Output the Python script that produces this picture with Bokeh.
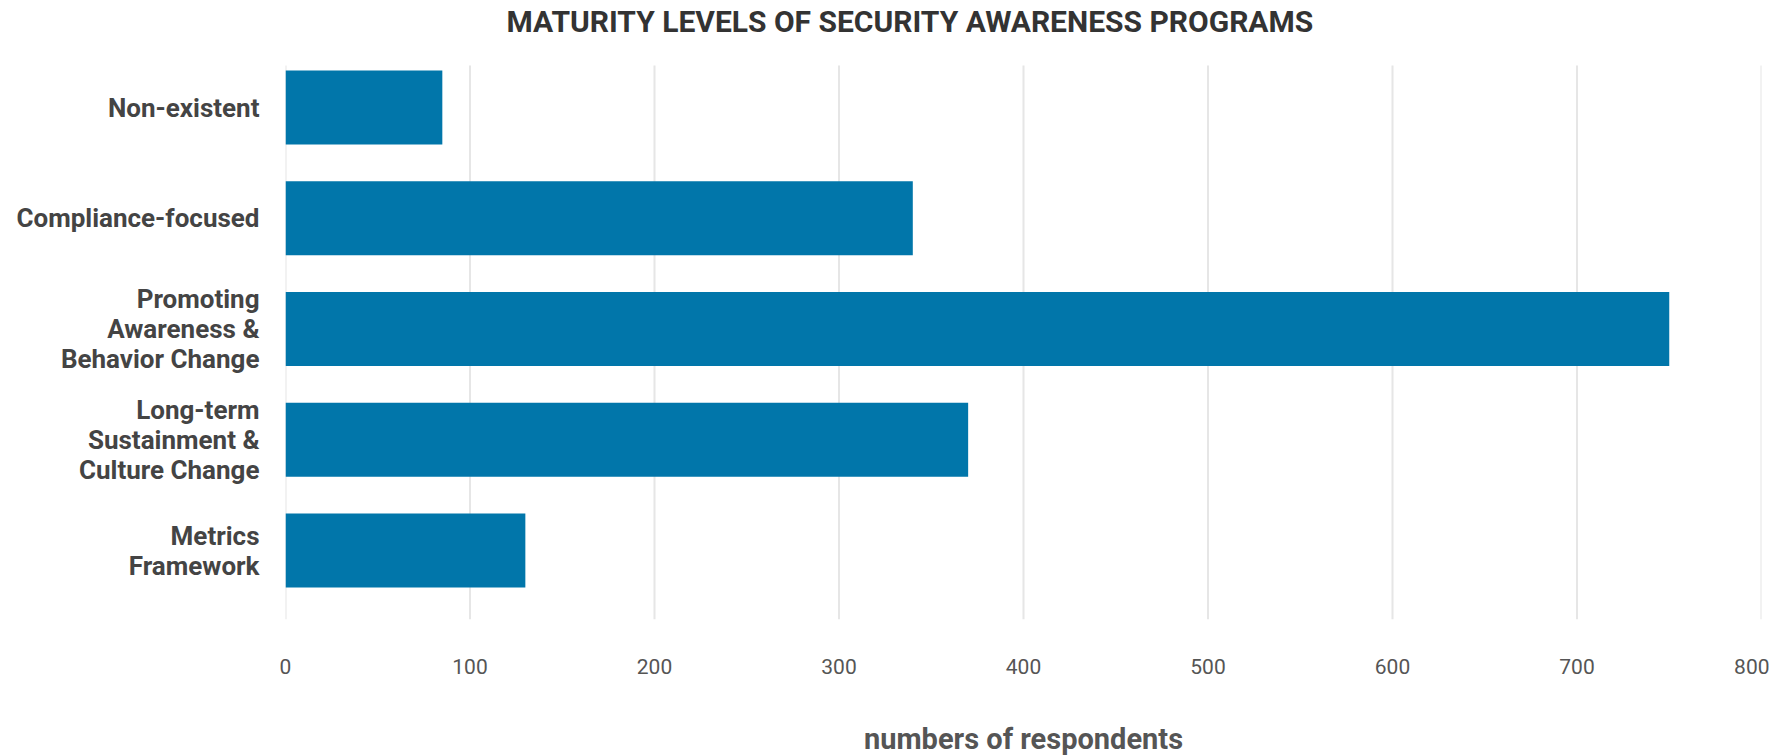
from bokeh.plotting import figure
from bokeh.models import Range1d, FixedTicker, Label
from bokeh.embed import file_html
from bokeh.resources import INLINE

title_text = "MATURITY LEVELS OF SECURITY AWARENESS PROGRAMS"
categories = [
    "Non-existent",
    "Compliance-focused",
    "Promoting\nAwareness &\nBehavior Change",
    "Long-term\nSustainment &\nCulture Change",
    "Metrics\nFramework",
]
values = [85, 340, 750, 370, 130]
x_ticks = [0, 100, 200, 300, 400, 500, 600, 700, 800]
x_label = "numbers of respondents"

FONT = "Roboto"
n = len(categories)
ypos = [n - 1 - i for i in range(n)]

# layout constants (pixels)
BAND = 110.75          # px per category
FRAME_H = 619          # frame spans from canvas top to bottom gridline end
GRID_TOP_PX = 65       # gridlines start here (from canvas top)
Y_START = -0.623
Y_END = Y_START + FRAME_H / BAND
GRID_TOP = Y_START + (FRAME_H - GRID_TOP_PX) / BAND

p = figure(
    output_backend="svg",
    toolbar_location=None,
    frame_width=1476,
    frame_height=FRAME_H,
    min_border_left=285,
    min_border_right=8,
    min_border_top=0,
    min_border_bottom=120,
    x_range=Range1d(0, 800),
    y_range=Range1d(Y_START, Y_END),
)

# vertical grid lines (drawn from the tick values)
p.segment(x0=x_ticks, x1=x_ticks, y0=[Y_START] * len(x_ticks), y1=[GRID_TOP] * len(x_ticks),
          line_color="#e6e6e6", line_width=2)

p.hbar(y=ypos, right=values, left=0, height=0.668, fill_color="#0176AA", line_color=None)

title = Label(
    x=221, y=FRAME_H - 21, x_units="screen", y_units="screen",
    text=title_text, text_align="left", text_baseline="alphabetic",
    text_font=FONT, text_font_size="30px", text_font_style="bold",
    text_color="#333333",
)
p.add_layout(title)

p.outline_line_color = None
p.ygrid.grid_line_color = None
p.xgrid.grid_line_color = None

xa = p.xaxis[0]
xa.ticker = FixedTicker(ticks=x_ticks)
xa.axis_line_color = None
xa.major_tick_line_color = None
xa.minor_tick_line_color = None
xa.major_label_standoff = 33
xa.major_label_text_font = FONT
xa.major_label_text_font_size = "21px"
xa.major_label_text_color = "#555555"
xa.axis_label = x_label
xa.axis_label_standoff = 45
xa.axis_label_text_font = FONT
xa.axis_label_text_font_size = "29px"
xa.axis_label_text_font_style = "bold"
xa.axis_label_text_color = "#555555"

ya = p.yaxis[0]
ya.ticker = FixedTicker(ticks=ypos)
ya.major_label_overrides = {y: c for y, c in zip(ypos, categories)}
ya.axis_line_color = None
ya.major_tick_line_color = None
ya.minor_tick_line_color = None
ya.major_label_standoff = 20
ya.major_label_text_font = FONT
ya.major_label_text_font_size = "26px"
ya.major_label_text_font_style = "bold"
ya.major_label_text_color = "#444444"
ya.major_label_text_line_height = 1.0

open("out.html", "w").write(file_html(p, INLINE))
